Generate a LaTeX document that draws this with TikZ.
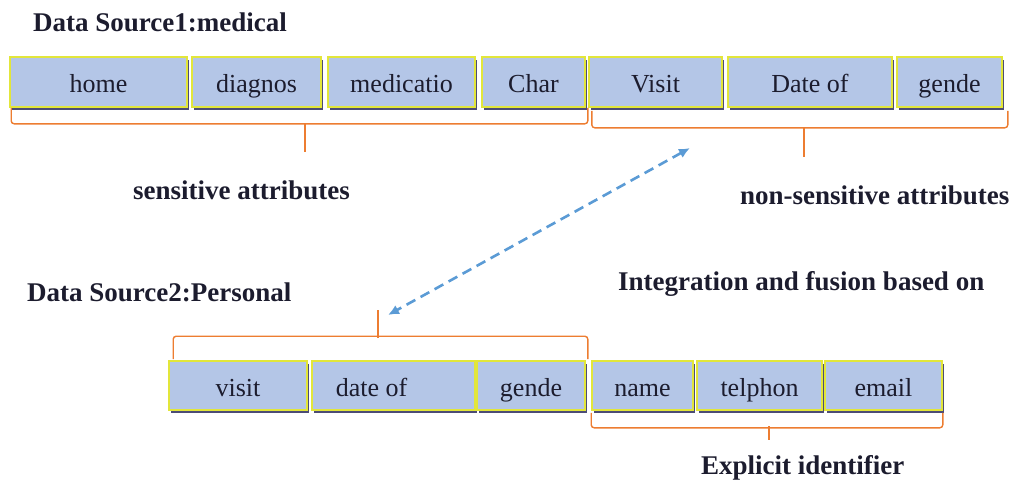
\documentclass[tikz,border=0pt]{standalone}
\usepackage{fontspec}
\setmainfont{Liberation Serif}
\usepackage{tikz}
\usepackage{xcolor}
\usetikzlibrary{arrows.meta, shadows}
\definecolor{Cell_Blue}{HTML}{B4C6E7}
\definecolor{Cell_Edge}{HTML}{E2E63A}
\definecolor{Brace_Orange}{HTML}{ED7D31}
\definecolor{Link_Blue}{HTML}{5B9BD5}
\definecolor{Ink}{HTML}{1C1C2E}

\begin{document}
\begin{tikzpicture}[x=1pt, y=-1pt,
  attr/.style={draw=Cell_Edge, line width=1.6pt, fill=Cell_Blue, text=Ink,
    inner sep=0pt, text height=26pt, text depth=5pt, font=\fontsize{26}{30}\selectfont,
    drop shadow={shadow xshift=2pt, shadow yshift=-3pt, fill=black!60!blue!40!gray, opacity=1}},
  brace/.style={draw=Brace_Orange, line width=1.4pt, rounded corners=3pt},
  caption/.style={anchor=west, text=Ink, inner sep=0pt, font=\fontsize{27}{31}\selectfont\bfseries}]
\useasboundingbox (0,0) rectangle (1020,480);
% --- data source 1 ---
\node[caption] (src1) at (33,22) {Data Source1:medical};
\node[attr, minimum width=177pt, minimum height=50pt] (home) at (98.5,82) {home};
\node[attr, minimum width=129pt, minimum height=50pt] (diagnos) at (256.5,82) {diagnos};
\node[attr, minimum width=147pt, minimum height=50pt] (medic) at (401.5,82) {medicatio};
\node[attr, minimum width=103pt, minimum height=50pt] (char) at (533.5,82) {Char};
\node[attr, minimum width=133pt, minimum height=50pt] (visit1) at (655.5,82) {Visit};
\node[attr, minimum width=164pt, minimum height=50pt] (date1) at (810,82) {Date of};
\node[attr, minimum width=105pt, minimum height=50pt] (gende1) at (949.5,82) {gende};
% braces under source 1
\draw[brace] ([xshift=2pt]home.south west) -- ++(0,16) -| ([xshift=2pt]char.south east);
\coordinate (sensTick) at (305,123);
\coordinate (sensEnd) at (305,152);
\draw[brace] (sensTick) -- (sensEnd);
\draw[brace] ([xshift=6pt,yshift=-3pt]char.south east) -- ++(0,17) -| ([xshift=5pt,yshift=-3pt]gende1.south east);
\coordinate (nonTick) at (804,127);
\coordinate (nonEnd) at (804,157);
\draw[brace] (nonTick) -- (nonEnd);
\node[caption] (sens) at (133,190) {sensitive attributes};
\node[caption] (nonsens) at (740,195) {non-sensitive attributes};
% --- fusion link ---
\coordinate (fuseA) at (690,148);
\coordinate (fuseB) at (388,315);
\draw[Link_Blue, line width=2.6pt, dash pattern=on 10pt off 6pt, {Latex[length=11pt,width=10pt]}-{Latex[length=11pt,width=10pt]}] (fuseA) -- (fuseB);
\node[caption] (src2) at (27,292) {Data Source2:Personal};
\node[caption] (fusion) at (618,284) {Integration and fusion based on};
% --- data source 2 ---
\node[attr, minimum width=138pt, minimum height=49pt] (visit2) at (238,385.5) {visit};
\node[attr, minimum width=163pt, minimum height=49pt] (date2) at (393.5,385.5) {date of\kern44pt};
\node[attr, minimum width=108pt, minimum height=49pt] (gende2) at (531,385.5) {gende};
\node[attr, minimum width=101pt, minimum height=49pt] (name) at (642.5,385.5) {name};
\node[attr, minimum width=125pt, minimum height=49pt] (telphon) at (759.5,385.5) {telphon};
\node[attr, minimum width=117pt, minimum height=49pt] (email) at (883.5,385.5) {email};
% braces of source 2
\draw[brace] ([xshift=5pt,yshift=1pt]visit2.north west) -- ++(0,-23) -| ([xshift=2pt,yshift=1pt]gende2.north east);
\coordinate (pairTick) at (378,338);
\coordinate (pairEnd) at (378,310);
\draw[brace] (pairTick) -- (pairEnd);
\draw[brace] ([yshift=-2pt]name.south west) -- ++(0,15) -| ([yshift=-2pt]email.south east);
\coordinate (idTick) at (769,426);
\coordinate (idEnd) at (769,440);
\draw[brace] (idTick) -- (idEnd);
\node[caption] (explicit) at (701,468) {Explicit identifier};
\end{tikzpicture}
\end{document}
